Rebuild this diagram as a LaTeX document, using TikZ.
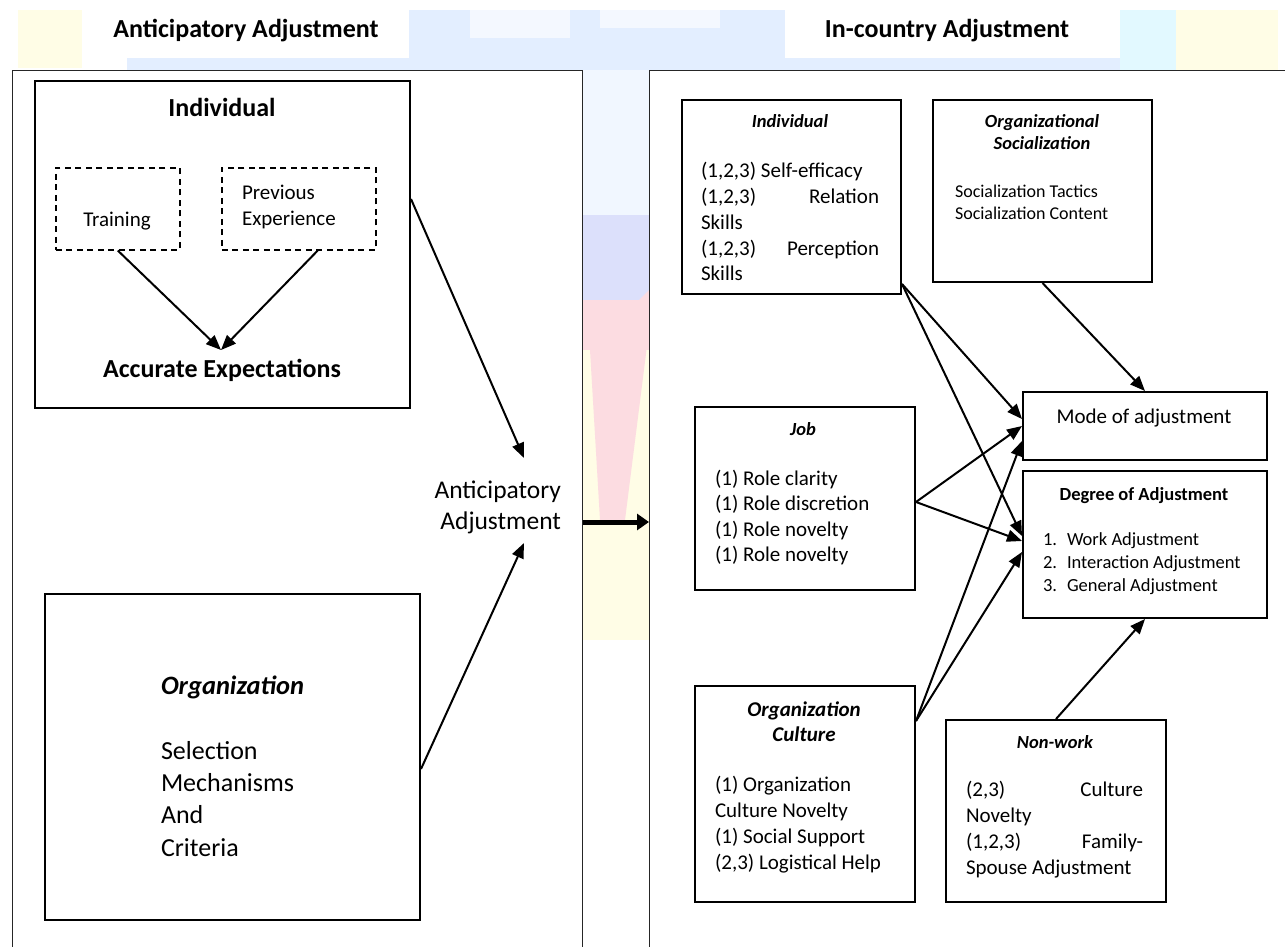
\documentclass[tikz,border=0pt]{standalone}
\usepackage{fontspec}
\setmainfont{Carlito}
\usetikzlibrary{arrows.meta,calc}
\definecolor{wmY}{HTML}{FFFDE6}
\definecolor{wmB}{HTML}{E3EEFF}
\definecolor{wmC}{HTML}{E2F9FF}
\definecolor{wmP}{HTML}{DCE0FB}
\definecolor{wmR}{HTML}{FCDCE1}
\begin{document}
\begin{tikzpicture}[x=1pt,y=-1pt,
  obox/.style={draw=black!85, line width=1.3pt, fill=white, inner sep=0pt, anchor=north west},
  box/.style={draw=black, line width=2pt, fill=white, inner sep=0pt, anchor=north west},
  dbox/.style={draw=black, line width=1.5pt, dash pattern=on 6pt off 4.5pt, inner sep=0pt, anchor=north west},
  arr/.style={line width=2pt, -{Triangle[length=15pt,width=12pt]}},
  bigarr/.style={line width=5pt, -{Triangle[length=12pt,width=16pt]}},
  txt/.style={inner sep=0pt, outer sep=0pt},
  fmid/.style={font=\fontsize{21}{26}\selectfont},
]
\useasboundingbox (0,0) rectangle (1285,947);
% watermark background
\fill[wmY] (18,10) rectangle (82,68);
\fill[wmB] (127,58) rectangle (409,70);
\fill[wmB] (409,10) rectangle (785,70);
\fill[wmB!40!white] (470,10) rectangle (570,38);
\fill[wmB!40!white] (600,10) rectangle (720,28);
\fill[wmB] (785,58) rectangle (1120,70);
\fill[wmC] (1120,10) rectangle (1176,70);
\fill[wmY] (1176,10) rectangle (1278,70);
\fill[wmB!50!white] (582,70) rectangle (649,215);
\fill[wmP] (582,215) rectangle (649,300);
\fill[wmR] (582,300) rectangle (649,350);
\fill[wmY] (582,350) rectangle (649,640);
\fill[wmR] (590,350) -- (649,290) -- (649,330) -- (625,520) -- (600,520) -- cycle;
% titles
\fill[white] (82,10) rectangle (409,58);
\fill[white] (785,10) rectangle (1120,58);
\node[txt, anchor=base, font=\bfseries\fontsize{26}{31}\selectfont] (tL) at (246,38) {Anticipatory Adjustment};
\node[txt, anchor=base, font=\bfseries\fontsize{26}{31}\selectfont] (tR) at (947,38) {In-country Adjustment};
% outer boxes
\node[obox, minimum width=570pt, minimum height=950pt] (outerL) at (12,70) {};
\node[obox, minimum width=700pt, minimum height=950pt] (outerR) at (649,70) {};
% ---------- left side ----------
\node[box, minimum width=375pt, minimum height=327pt] (indL) at (34,80) {};
\node[txt, anchor=base, font=\bfseries\fontsize{26}{31}\selectfont] (indLh) at (222,117) {Individual};
\node[dbox, minimum width=124pt, minimum height=82pt] (trainD) at (55,167) {};
\node[dbox, minimum width=154pt, minimum height=82pt] (prevD) at (221,167) {};
\node[txt, anchor=base, fmid] (trainT) at (117,226) {Training};
\node[txt, anchor=base west, fmid, text width=120pt, align=flush left] (prevT) at (242,199) {Previous\\Experience};
\node[txt, anchor=base, font=\bfseries\fontsize{26}{31}\selectfont] (accE) at (222,377) {Accurate Expectations};
\coordinate (accTip) at (221,350);
\draw[arr] (trainD.south) -- (accTip);
\draw[arr] ([xshift=19pt]prevD.south) -- (accTip);

\node[box, minimum width=375pt, minimum height=326pt] (orgL) at (44,593) {};
\node[txt, anchor=base west, font=\bfseries\itshape\fontsize{26.5}{32}\selectfont] (orgLh) at (161,694) {Organization};
\node[txt, anchor=base west, font=\fontsize{26}{32.4}\selectfont, text width=200pt, align=flush left] (orgLb) at (161,759) {Selection\\Mechanisms\\And\\Criteria};

\node[txt, anchor=base east, font=\fontsize{25.5}{31.5}\selectfont, text width=160pt, align=flush right] (antLab) at (561,498) {Anticipatory\\Adjustment};
\coordinate (antTop) at (524,458);
\coordinate (antBot) at (524,543);
\draw[arr] ([yshift=45.5pt]indL.east) -- (antTop);
\draw[arr] ([yshift=-12pt]orgL.east) -- (antBot);
\coordinate (boldY) at (600,522);
\draw[bigarr] (outerL.east |- boldY) -- (outerR.west |- boldY);

% ---------- right side ----------
\node[box, minimum width=219pt, minimum height=194pt] (indR) at (681,99) {};
\node[txt, anchor=base, font=\bfseries\itshape\fontsize{18.5}{23}\selectfont] (indRh) at (790,128) {Individual};
\node[txt, anchor=base west, fmid, text width=178pt, align=flush left] (indRb) at (701,177)
  {(1,2,3) Self-efficacy\\(1,2,3)\hfill Relation\\Skills\\(1,2,3)\hfill Perception\\Skills};

\node[box, minimum width=219pt, minimum height=182pt] (osoc) at (932,99) {};
\node[txt, anchor=base, font=\bfseries\itshape\fontsize{18.5}{21.5}\selectfont, text width=200pt, align=flush center] (osoch) at (1042,128) {Organizational\\Socialization};
\node[txt, anchor=base west, font=\fontsize{18}{22.5}\selectfont, text width=190pt, align=flush left] (osocb) at (955,197) {Socialization Tactics\\Socialization Content};

\node[box, minimum width=220pt, minimum height=183pt] (job) at (694,406) {};
\node[txt, anchor=base, font=\bfseries\itshape\fontsize{18.5}{23}\selectfont] (jobh) at (803,435) {Job};
\node[txt, anchor=base west, font=\fontsize{21}{25.5}\selectfont, text width=190pt, align=flush left] (jobb) at (715,485)
  {(1) Role clarity\\(1) Role discretion\\(1) Role novelty\\(1) Role novelty};

\node[box, minimum width=244pt, minimum height=68pt] (mode) at (1022,391) {};
\node[txt, anchor=base, fmid] (modet) at (1144,423) {Mode of adjustment};

\node[box, minimum width=244pt, minimum height=147pt] (degree) at (1022,470) {};
\node[txt, anchor=base, font=\bfseries\fontsize{18.5}{23}\selectfont] (degh) at (1144,500) {Degree of Adjustment};
\node[txt, anchor=base west, font=\fontsize{18.5}{23}\selectfont, text width=215pt, align=flush left] (degb) at (1043,545)
  {\makebox[24pt][l]{1.}Work Adjustment\\\makebox[24pt][l]{2.}Interaction Adjustment\\\makebox[24pt][l]{3.}General Adjustment};

\node[box, minimum width=220pt, minimum height=216pt] (ocult) at (694,685) {};
\node[txt, anchor=base, font=\bfseries\itshape\fontsize{21}{25.5}\selectfont, text width=200pt, align=flush center] (oculth) at (804,716) {Organization\\Culture};
\node[txt, anchor=base west, fmid, text width=195pt, align=flush left] (ocultb) at (715,791)
  {(1) Organization\\Culture Novelty\\(1) Social Support\\(2,3) Logistical Help};

\node[box, minimum width=220pt, minimum height=182pt] (nonwork) at (945,719) {};
\node[txt, anchor=base, font=\bfseries\itshape\fontsize{18.5}{23}\selectfont] (nonworkh) at (1055,748) {Non-work};
\node[txt, anchor=base west, fmid, text width=177pt, align=flush left] (nonworkb) at (966,796)
  {(2,3)\hfill Culture\\Novelty\\(1,2,3)\hfill Family-\\Spouse Adjustment};

% connectors
\draw[arr] (osoc.south) -- (mode.north);
\draw[arr] ([yshift=11pt]indR.south east) -- ([yshift=7pt]mode.west);
\draw[arr] ([yshift=11pt]indR.south east) -- ([yshift=8.5pt]degree.west);
\draw[arr] ([yshift=-3.5pt]job.east) -- (mode.west);
\draw[arr] ([yshift=-3.5pt]job.east) -- ([yshift=3.5pt]degree.west);
\draw[arr] ([yshift=73pt]ocult.east) -- ([yshift=-15pt]mode.west);
\draw[arr] ([yshift=73pt]ocult.east) -- ([yshift=-7.5pt]degree.west);
\draw[arr] (nonwork.north) -- (degree.south);
\end{tikzpicture}
\end{document}
